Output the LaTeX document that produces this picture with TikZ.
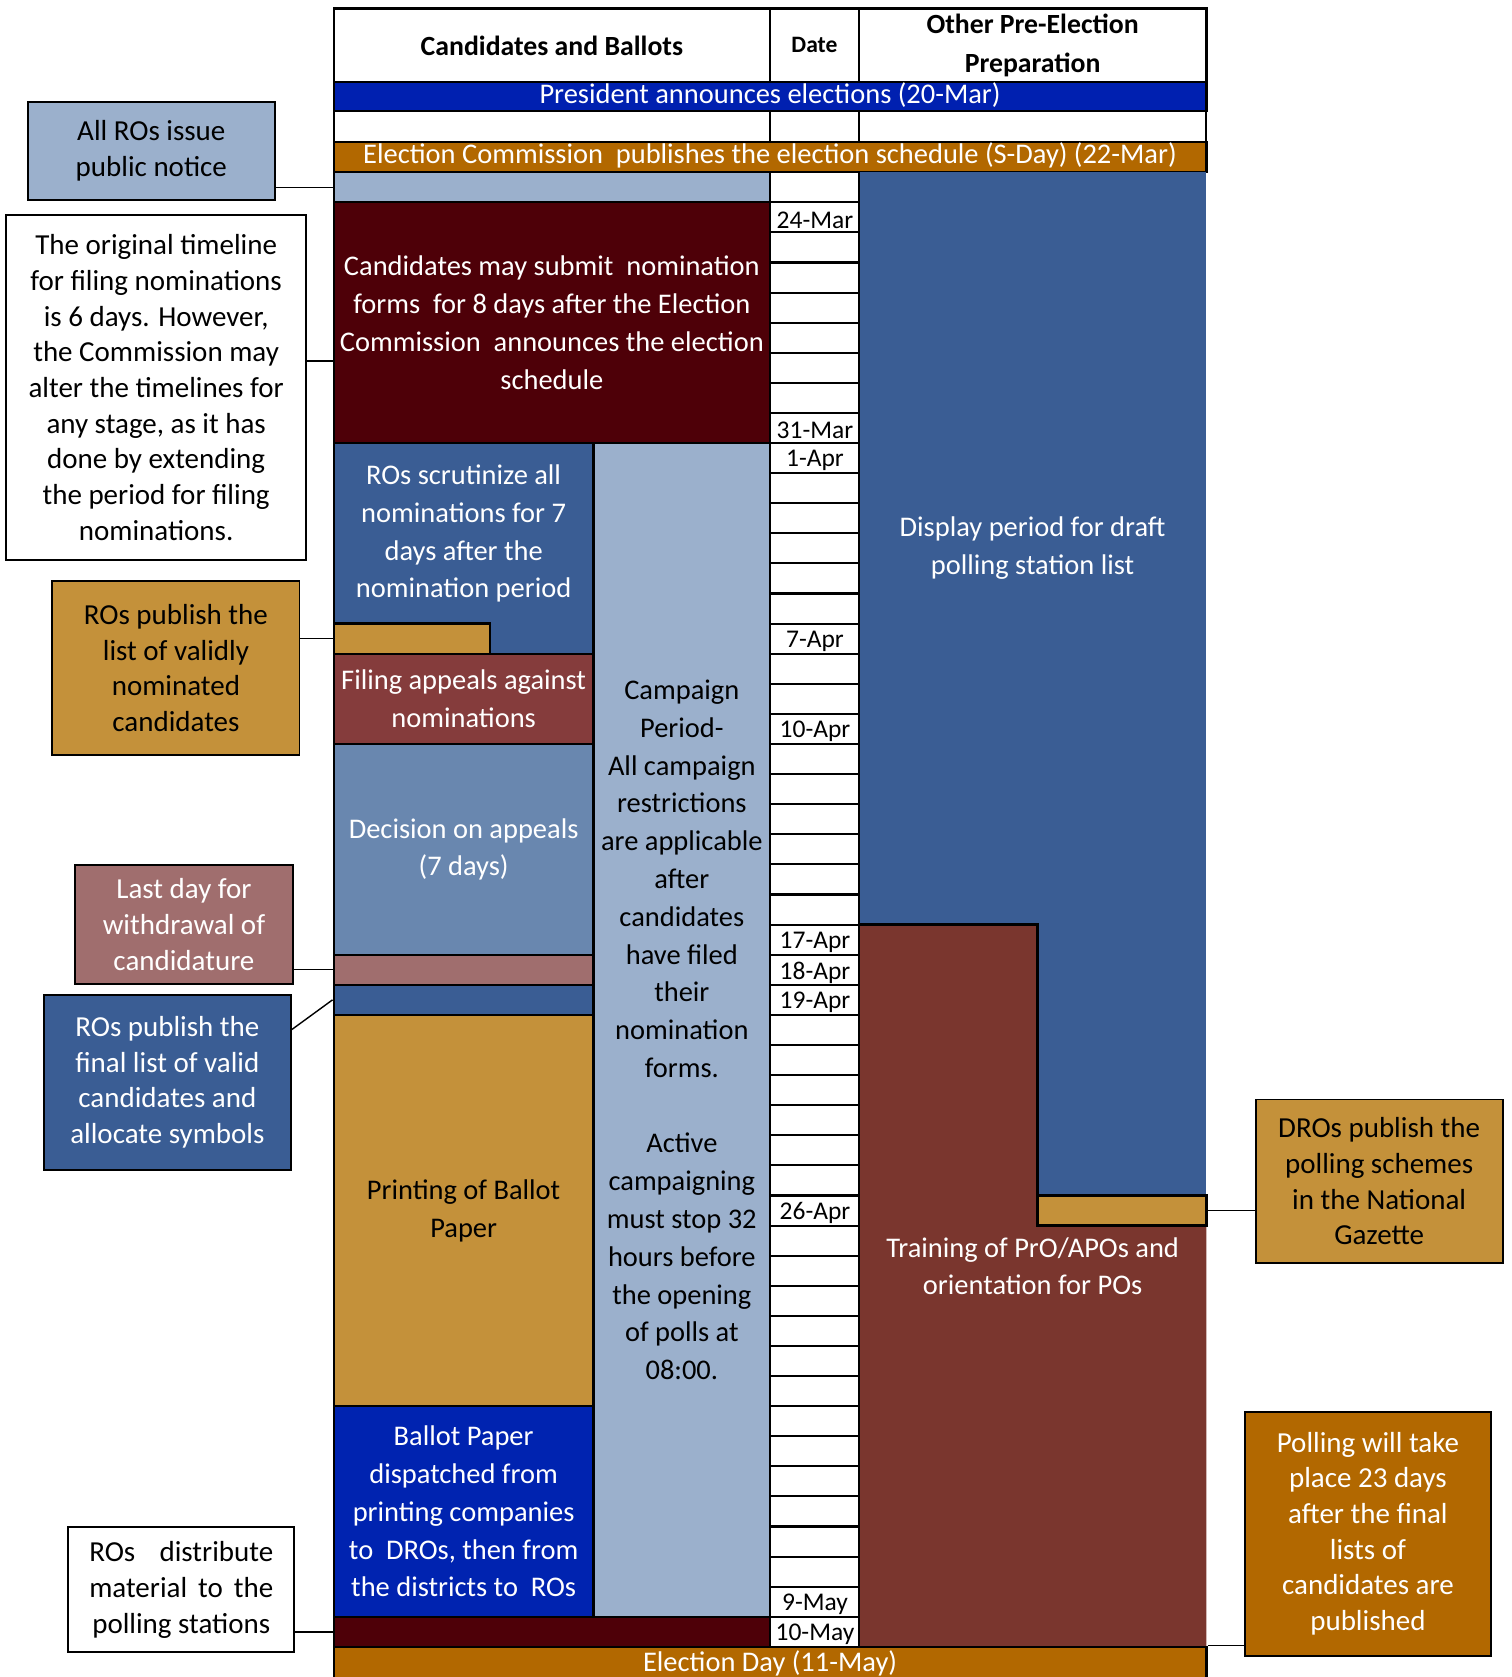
\documentclass[tikz,border=0pt]{standalone}
\usepackage{fontspec}
\setmainfont{Carlito}
\definecolor{colorpres}     {RGB}{  0, 32,176}
\definecolor{colorsched}    {RGB}{178,104,  0}
\definecolor{colorlight}    {RGB}{155,176,204}
\definecolor{colorblue}     {RGB}{ 58, 93,148}
\definecolor{colordeep}     {RGB}{ 78,  0,  8}
\definecolor{colorappeal}   {RGB}{133, 60, 60}
\definecolor{colordecide}   {RGB}{105,135,175}
\definecolor{colorwithdraw} {RGB}{160,110,110}
\definecolor{colorgold}     {RGB}{196,145, 58}
\definecolor{colordispatch} {RGB}{  0, 35,176}
\definecolor{colortrain}    {RGB}{122, 54, 46}
\newcommand\pxu{0.021387cm}

\begin{document}
\begin{tikzpicture}[
    x=\pxu, y=-\pxu,
    span/.style args={#1/#2/#3/#4}{minimum width={(#3-#1)*\pxu},minimum height={(#4-#2)*\pxu},
        at={({(#1+#3)/2},{(#2+#4)/2})},anchor=center},
    base/.style={inner sep=0pt,align=center,font={\fontsize{16.2}{21.5}\selectfont}},
    blk/.style={base,draw=black,line width=1.3pt,text=white},
    hdr/.style={blk,fill=white,text=black,font={\fontsize{15.8}{22}\selectfont\bfseries}},
    bar/.style={blk,text height=10.5pt,text depth=3pt},
    datecell/.style={draw=black,fill=white,line width=1.2pt},
    datelbl/.style={inner sep=0pt,font={\fontsize{14.5}{16}\selectfont}},
    callout/.style={base,draw=black,line width=1.1pt,font={\fontsize{16.5}{20.3}\selectfont}},
    link/.style={line width=0.8pt},
]
    \useasboundingbox (0,0) rectangle (1413,1568);

    % header
    \node[hdr,span=312/8/720/77]   (hcand)  {Candidates and Ballots};
    \node[hdr,font={\fontsize{13.4}{17}\selectfont\bfseries},span=720/8/803/77] (hdate) {Date};
    \node[hdr,span=803/8/1128/77]  (hother) {Other Pre-Election\\Preparation};

    \node[bar,fill=colorpres,span=312/77/1128/104] (pres) {President announces elections (20-Mar)};
    \draw[datecell] (312,104) rectangle (720,133);
    \draw[datecell] (720,104) rectangle (803,133);
    \draw[datecell] (803,104) rectangle (1128,133);
    \node[bar,fill=colorsched,span=312/133/1128/161] (sched) {Election Commission\ \ publishes the election schedule (S-Day) (22-Mar)};

    % candidates and ballots
    \node[blk,fill=colorlight,span=312/161/720/189.14] (pubrow) {};
    \node[blk,fill=colordeep,span=312/189.14/720/414.26] (nomin) {Candidates may submit\ \ nomination\\forms\ \ for 8 days after the Election\\Commission\ \ announces the election\\schedule};
    \node[blk,fill=colorblue,span=312/414.26/555/611.24] (scrut) {};
    \node[base,text=white] (scruttxt) at (433.5,499) {ROs scrutinize all\\nominations for 7\\days after the\\nomination period};
    \node[blk,fill=colorgold,span=312/583.1/458/611.24] (valid) {};
    \node[blk,fill=colorappeal,span=312/611.24/555/695.66] (appeal) {Filing appeals against\\nominations};
    \node[blk,fill=colordecide,span=312/695.66/555/892.64] (decide) {Decision on appeals\\(7 days)};
    \node[blk,fill=colorwithdraw,span=312/892.64/555/920.78] (withdraw) {};
    \node[blk,fill=colorblue,span=312/920.78/555/948.92] (final) {};
    \node[blk,fill=colorgold,text=black,span=312/948.92/555/1314.74] (printing) {Printing of Ballot\\Paper};
    \node[blk,fill=colordispatch,span=312/1314.74/555/1511.72] (dispatch) {Ballot Paper\\dispatched from\\printing companies\\to\ \ DROs, then from\\the districts to\ \ ROs};
    \node[blk,fill=colordeep,span=312/1511.72/720/1539.86] (distrib) {};
    \node[blk,fill=colorlight,text=black,span=555/414.26/720/1511.72] (campaign) {Campaign\\Period-\\All campaign\\restrictions\\are applicable\\after\\candidates\\have filed\\their\\nomination\\forms.\\[21.5pt]Active\\campaigning\\must stop 32\\hours before\\the opening\\of polls at\\08:00.};

    % other preparation
    \node[base,fill=colorblue,text=white,span=803/161/1128/864.5] (display) {Display period for draft\\polling station list};
    \fill[colorblue] (970,864.5) rectangle (1128,1117.76);
    \fill[colortrain] (803,864.5) -- (970,864.5) -- (970,1145.9) -- (1128,1145.9) -- (1128,1539.86) -- (803,1539.86) -- cycle;
    \draw[line width=1.3pt] (803,864.5) -- (970,864.5) -- (970,1117.76);
    \node[blk,fill=colorgold,span=970/1117.76/1128/1145.9] (gazette) {};
    \node[base,text=white] (training) at (965.5,1184) {Training of PrO/APOs and\\orientation for POs};

    \node[bar,fill=colorsched,span=312/1539.86/1128/1574] (elecday) {Election Day (11-May)};

    % dates
    \foreach \i in {0,...,48}
        \draw[datecell] (720,{161+28.14*\i}) rectangle (803,{161+28.14*(\i+1)});
    \foreach \i/\d in {1/24-Mar,8/31-Mar,9/1-Apr,15/7-Apr,18/10-Apr,25/17-Apr,26/18-Apr,27/19-Apr,34/26-Apr,47/9-May,48/10-May}
        \node[datelbl] (dl\i) at (762,{163.5+28.14*(\i+0.5)}) {\d};

    % callouts
    \node[callout,fill=colorlight,span=26/95/257/187] (notice) {All ROs issue\\public notice};
    \node[callout,fill=white,span=6/201/286/524] (original) {The original timeline\\for filing nominations\\is 6 days. However,\\the Commission may\\alter the timelines for\\any stage, as it has\\done by extending\\the period for filing\\nominations.};
    \node[callout,fill=colorgold,span=49/543/280/706] (validly) {ROs publish the\\list of validly\\nominated\\candidates};
    \node[callout,fill=colorwithdraw,text=white,span=70/809/274/920] (lastday) {Last day for\\withdrawal of\\candidature};
    \node[callout,fill=colorblue,text=white,span=41/930/272/1094] (finallist) {ROs publish the\\final list of valid\\candidates and\\allocate symbols};
    \node[callout,fill=white,span=64/1428/275/1545] (distribute) {\makebox[3.68cm][s]{ROs distribute}\\\makebox[3.68cm][s]{material to the}\\polling stations};
    \node[callout,fill=colorgold,span=1174/1028/1405/1181] (dros) {DROs publish the\\polling schemes\\in the National\\Gazette};
    \node[callout,fill=colorsched,text=white,span=1164/1320/1394/1548] (polling) {Polling will take\\place 23 days\\after the final\\lists of\\candidates are\\published};

    \draw[link] (pubrow.west) -- (pubrow.west -| notice.east);
    \draw[link] (original.10) -- (original.10 -| nomin.west);
    \draw[link] (valid.west) -- (valid.west -| validly.east);
    \draw[link] (withdraw.west) -- (withdraw.west -| lastday.east);
    \draw[link] (final.west) -- (finallist.23);
    \draw[link] (distrib.west) -- (distrib.west -| distribute.east);
    \draw[link] (gazette.east) -- (gazette.east -| dros.west);
    \draw[link] (elecday.north east) -- (elecday.north east -| polling.west);

\end{tikzpicture}
\end{document}
